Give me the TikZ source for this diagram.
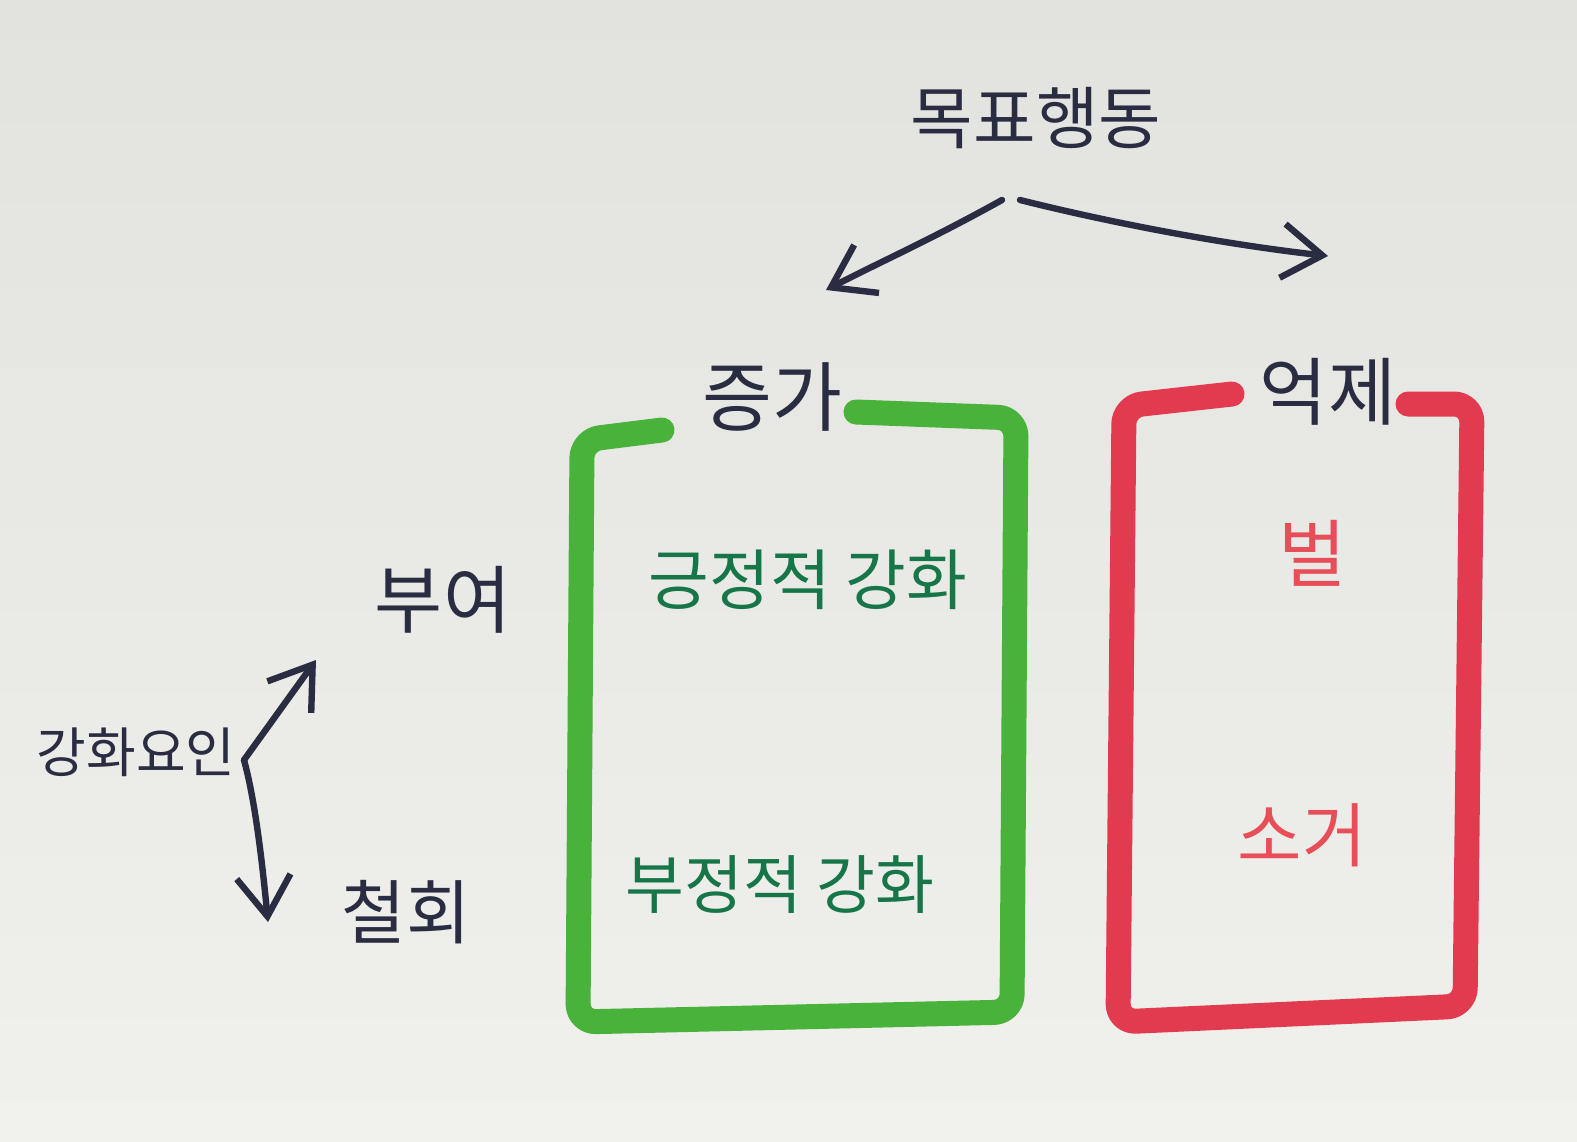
\documentclass[tikz,border=0pt]{standalone}
\usepackage{fontspec}
\newfontfamily\kr{Noto Sans CJK KR}
\usetikzlibrary{arrows.meta}
\definecolor{ink}{RGB}{42,44,66}
\definecolor{gpen}{RGB}{22,118,72}
\definecolor{gcray}{RGB}{72,178,58}
\definecolor{rcray}{RGB}{226,58,78}
\definecolor{rpen}{RGB}{232,78,88}
\definecolor{paperA}{RGB}{226,226,223}
\definecolor{paperB}{RGB}{240,240,237}
\begin{document}
\begin{tikzpicture}[x=0.5pt,y=-0.5pt,
  lbl/.style={font=\kr\fontsize{#1}{#1}\selectfont, text=ink, inner sep=0pt},
  glbl/.style={lbl=#1, text=gpen},
  rlbl/.style={lbl=#1, text=rpen},
  pen/.style={draw=ink, line width=3.2pt, line cap=round, line join=round},
  arr/.style={pen, -{Straight Barb[length=20pt,width=27pt,line width=3.2pt]}},
  crayg/.style={draw=gcray, line width=12.5pt, line cap=round, line join=round, rounded corners=9pt},
  crayr/.style={draw=rcray, line width=12.5pt, line cap=round, line join=round, rounded corners=9pt}]
\useasboundingbox (0,0) rectangle (1577,1141);
\shade[top color=paperA, bottom color=paperB] (0,0) rectangle (1577,1141);

% labels
\node[lbl=34pt] (goal) at (1036,118) {목표행동};
\node[lbl=38pt] (inc) at (772,397) {증가};
\node[lbl=37pt] (sup) at (1328,392) {억제};
\node[glbl=33pt] (pos) at (808,580) {긍정적 강화};
\node[glbl=32pt] (neg) at (780,885) {부정적 강화};
\node[rlbl=37pt] (pun) at (1313,553) {벌};
\node[rlbl=35pt] (ext) at (1302,835) {소거};
\node[lbl=37pt] (give) at (443,600) {부여};
\node[lbl=35pt] (take) at (406,912) {철회};
\node[lbl=27pt] (factor) at (136,752) {강화요인};

% top arrows
\coordinate (gl) at (1002,200);
\coordinate (gr) at (1020,200);
\coordinate (incTip) at (826,290);
\coordinate (supTip) at (1328,256);
\draw[arr] (gl) .. controls (930,240) and (880,262) .. (incTip);
\draw[arr] (gr) .. controls (1120,225) and (1230,245) .. (supTip);

% reinforcement factor fork
\coordinate (fork) at (244,760);
\coordinate (giveTip) at (316,660);
\coordinate (takeTip) at (268,922);
\draw[arr] (fork) -- (giveTip);
\draw[arr] (fork) .. controls (255,800) and (262,860) .. (takeTip);

% green crayon box
\draw[crayg] (662,430) -- (582,440) -- (578,1022) -- (1012,1012) -- (1016,418) -- (856,412);
% red crayon box
\draw[crayr] (1232,394) -- (1124,406) -- (1118,1022) -- (1465,1006) -- (1472,404) -- (1408,404);
\end{tikzpicture}
\end{document}
